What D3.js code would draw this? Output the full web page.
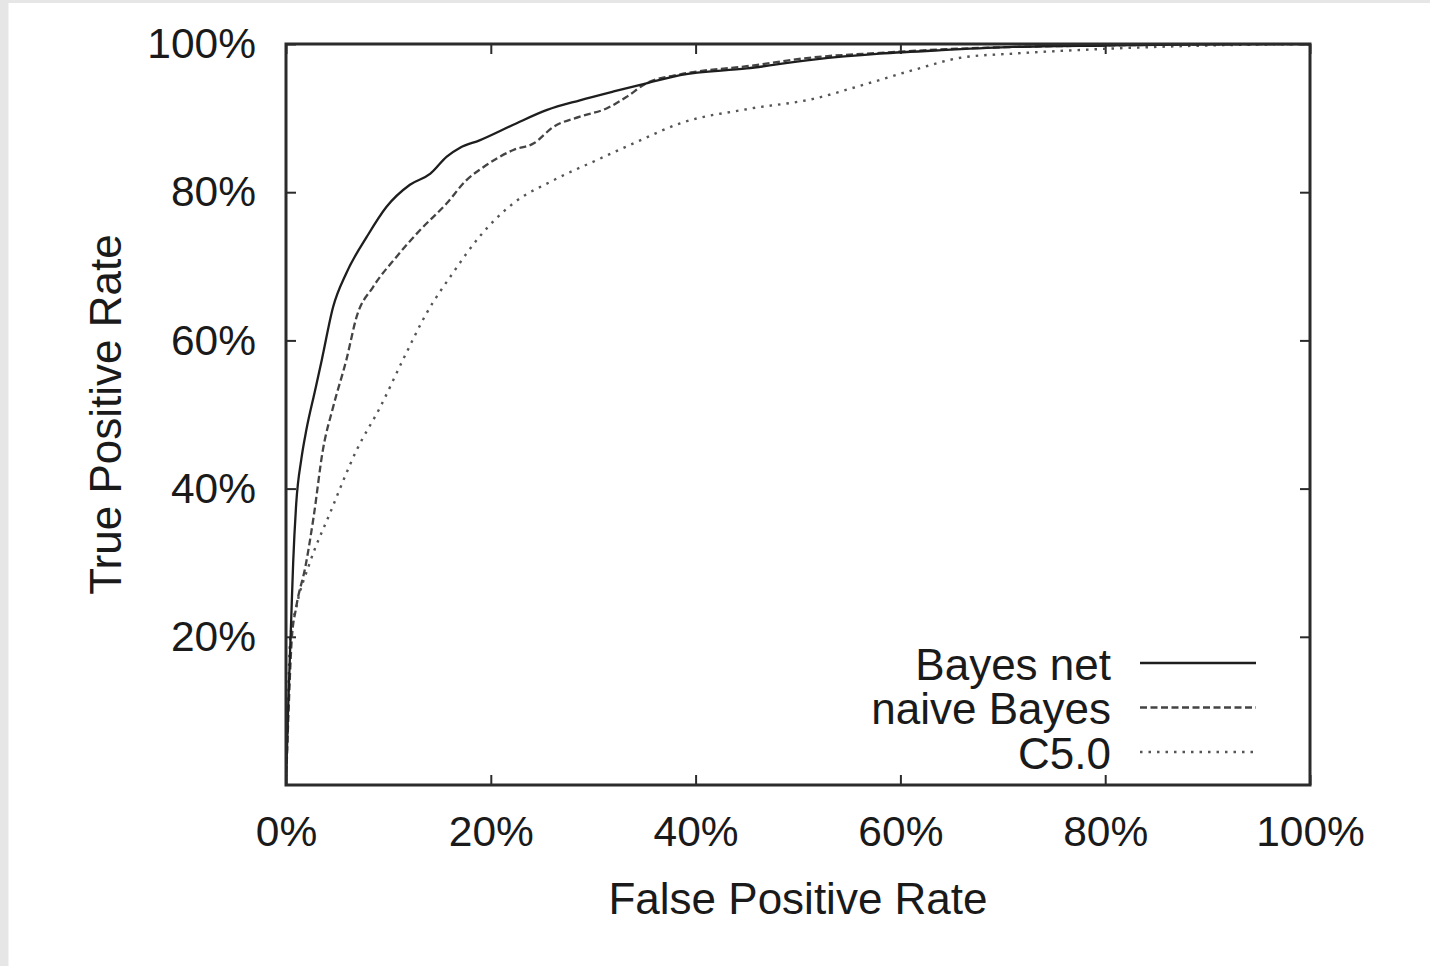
<!DOCTYPE html>
<html>
<head>
<meta charset="utf-8">
<script src="https://cdn.jsdelivr.net/npm/d3@7"></script>
<style>
	body { margin: 0; background: #ffffff; }
	svg { display: block; }
	text { font-family: "Liberation Sans", Arial, Helvetica, sans-serif; fill: #1a1a1a; }
</style>
</head>
<body>
<div id="chart"></div>
<script>
// ROC curves, values in percent
var seriesNames = ["Bayes net", "naive Bayes", "C5.0"];

var bayesNetFpr = [0, 0.2, 0.5, 0.7, 1.0, 1.5, 2.0, 2.8, 3.5, 4.6, 5.9, 7.9, 9.8, 12.1, 14.1, 15.7, 17.0, 18.9, 22.2, 25.5, 28.7, 32.0, 35.2, 38.5, 45.0, 51.5, 58.0, 64.5, 71.0, 80, 90, 100];
var bayesNetTpr = [0, 10, 22, 30, 38, 44, 48, 53, 57.4, 64.5, 69.1, 74.0, 78.0, 81.0, 82.5, 84.8, 86.0, 87.0, 89.1, 91.1, 92.4, 93.6, 94.7, 95.8, 96.7, 97.9, 98.7, 99.2, 99.6, 99.8, 99.95, 100];

var naiveFpr = [0, 0.2, 0.56, 1.0, 1.9, 2.7, 3.6, 4.6, 5.9, 6.9, 8.5, 10.8, 13.1, 15.7, 17.6, 19.3, 22.2, 24.2, 26.1, 28.7, 31.3, 33.3, 35.2, 38.5, 45, 51.5, 58, 64.5, 71, 80, 90, 100];
var naiveTpr = [0, 8, 19.6, 24, 29.5, 36.2, 45.2, 51, 57.4, 63.2, 67.2, 71.3, 74.9, 78.5, 81.6, 83.4, 85.7, 86.6, 88.8, 90.2, 91.3, 92.9, 94.7, 95.9, 97.0, 98.2, 98.8, 99.3, 99.6, 99.8, 99.95, 100];

var c50Fpr = [0, 0.15, 0.4, 1.0, 2.3, 4.3, 6.9, 9.2, 11.5, 13.7, 16.3, 18.9, 22.2, 26.1, 30.3, 34.6, 38.5, 45.0, 51.5, 56.4, 61.3, 66.1, 71.0, 79.2, 90, 100];
var c50Tpr = [0, 8, 19.6, 24, 29.9, 36.7, 45.2, 51, 57.6, 63.6, 69.1, 74.0, 78.5, 81.6, 84.3, 87.0, 89.3, 91.2, 92.6, 94.5, 96.5, 98.2, 98.7, 99.3, 99.8, 100];

var xTicks = [0, 20, 40, 60, 80, 100],
		yTicks = [20, 40, 60, 80, 100];

var W = 1430, H = 966;
var margin = {top: 44, right: 120, bottom: 181, left: 286};
var width = W - margin.left - margin.right,
		height = H - margin.top - margin.bottom;

function zipSeries(xs, ys) {
	return xs.map(function(x, i) { return {x: x, y: ys[i]}; });
}

var series = [
	{name: seriesNames[0], data: zipSeries(bayesNetFpr, bayesNetTpr), color: "#1e1e1e", width: 2.3, dash: null},
	{name: seriesNames[1], data: zipSeries(naiveFpr, naiveTpr), color: "#444444", width: 2.3, dash: "7,3.5"},
	{name: seriesNames[2], data: zipSeries(c50Fpr, c50Tpr), color: "#555555", width: 2.4, dash: "2.5,6"}
];

var svg = d3.select("#chart").append("svg")
		.attr("width", W)
		.attr("height", H);

// grey page edge like the scanned figure
svg.append("rect")
		.attr("width", W)
		.attr("height", H)
		.attr("fill", "#e6e6e6");
svg.append("rect")
		.attr("x", 8.5)
		.attr("y", 3)
		.attr("width", W - 8.5)
		.attr("height", H - 3)
		.attr("fill", "#ffffff");

var x = d3.scaleLinear().domain([0, 100]).range([0, width]),
		y = d3.scaleLinear().domain([0, 100]).range([height, 0]);

var g = svg.append("g")
		.attr("transform", "translate(" + margin.left + "," + margin.top + ")");

var fmt = function(d) { return d + "%"; };

var xAxis = d3.axisBottom(x).tickValues(xTicks).tickFormat(fmt).tickSizeInner(-10).tickSizeOuter(0).tickPadding(31),
		yAxis = d3.axisLeft(y).tickValues(yTicks).tickFormat(fmt).tickSizeInner(-10).tickSizeOuter(0).tickPadding(30),
		xAxisTop = d3.axisTop(x).tickValues(xTicks).tickFormat("").tickSizeInner(-10).tickSizeOuter(0),
		yAxisRight = d3.axisRight(y).tickValues(yTicks).tickFormat("").tickSizeInner(-10).tickSizeOuter(0);

g.append("g")
		.attr("class", "axis axis--x")
		.attr("transform", "translate(0," + height + ")")
		.call(xAxis);
g.append("g")
		.attr("class", "axis axis--y")
		.call(yAxis);
g.append("g")
		.attr("class", "axis axis--top")
		.call(xAxisTop);
g.append("g")
		.attr("class", "axis axis--right")
		.attr("transform", "translate(" + width + ",0)")
		.call(yAxisRight);

g.selectAll(".axis .domain").remove();
g.selectAll(".axis line")
		.attr("stroke", "#2b2b2b")
		.attr("stroke-width", 2);
g.selectAll(".axis text")
		.style("font-size", "42.5px")
		.attr("fill", "#1a1a1a");

// curves
var line = d3.line()
		.curve(d3.curveMonotoneX)
		.x(function(d) { return x(d.x); })
		.y(function(d) { return y(d.y); });

g.append("defs").append("clipPath")
		.attr("id", "clip")
	.append("rect")
		.attr("width", width)
		.attr("height", height);

g.append("g")
		.attr("clip-path", "url(#clip)")
	.selectAll("path.curve")
	.data(series.slice().reverse())
	.enter().append("path")
		.attr("class", "curve")
		.attr("d", function(d) { return line(d.data); })
		.attr("fill", "none")
		.attr("stroke", function(d) { return d.color; })
		.attr("stroke-width", function(d) { return d.width; })
		.attr("stroke-dasharray", function(d) { return d.dash; });

// frame
g.append("rect")
		.attr("width", width)
		.attr("height", height)
		.attr("fill", "none")
		.attr("stroke", "#2b2b2b")
		.attr("stroke-width", 3);

// legend
var legend = g.append("g")
		.attr("class", "legend");
var legendRow = legend.selectAll("g")
	.data(series)
	.enter().append("g")
		.attr("transform", function(d, i) { return "translate(0," + (620 + i * 44.5) + ")"; });

legendRow.append("text")
		.attr("x", 825)
		.attr("dy", "0.36em")
		.attr("text-anchor", "end")
		.style("font-size", "44px")
		.text(function(d) { return d.name; });

legendRow.append("line")
		.attr("x1", 854)
		.attr("x2", 970)
		.attr("y1", -1)
		.attr("y2", -1)
		.attr("stroke", function(d) { return d.color; })
		.attr("stroke-width", function(d) { return d.width; })
		.attr("stroke-dasharray", function(d) { return d.dash; });

// axis titles
svg.append("text")
		.attr("x", margin.left + width / 2)
		.attr("y", 914)
		.attr("text-anchor", "middle")
		.style("font-size", "44px")
		.text("False Positive Rate");

svg.append("text")
		.attr("transform", "translate(121," + (margin.top + height / 2) + ") rotate(-90)")
		.attr("text-anchor", "middle")
		.style("font-size", "44px")
		.text("True Positive Rate");
</script>
</body>
</html>
